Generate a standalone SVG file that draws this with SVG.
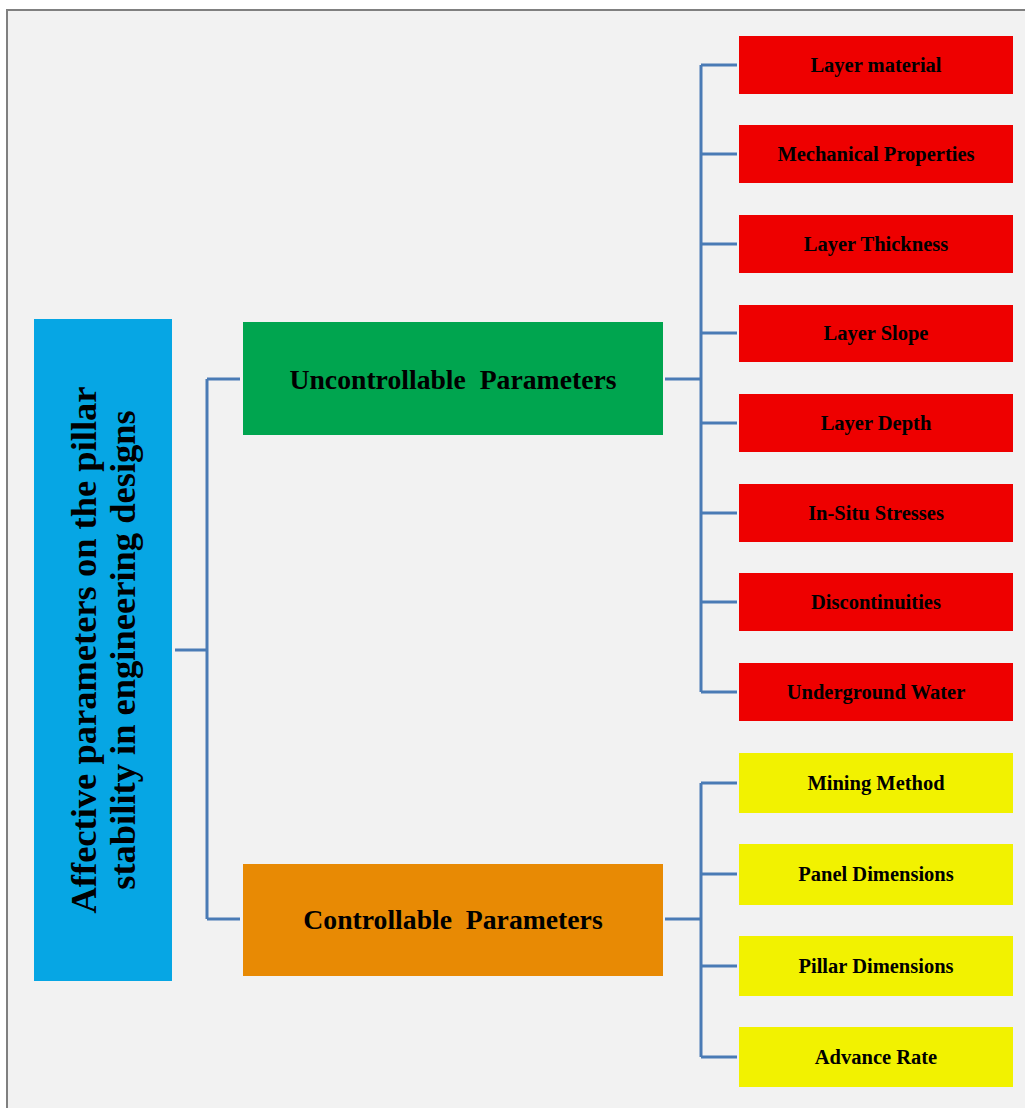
<svg xmlns="http://www.w3.org/2000/svg" width="1025" height="1108" viewBox="0 0 1025 1108">
<style>
.t{font-family:"Liberation Serif","Times New Roman",serif;font-weight:bold;fill:#000;text-anchor:middle;dominant-baseline:central}
.s{font-size:20.5px}
.m{font-size:27.7px;white-space:pre}
.r{font-size:36.5px;dominant-baseline:alphabetic}
.red{fill:#ee0000}
.yel{fill:#f2f200}
.c{fill:none;stroke:#4a7bb5;stroke-width:3}
</style>
<rect x="0" y="0" width="1025" height="1108" fill="#ffffff"/>
<rect x="7" y="10" width="1030" height="1110" fill="#f2f2f2" stroke="#808080" stroke-width="2"/>
<g id="connectors">
<path class="c" d="M175 650H207M207 379V919M207 379H240M207 919H240"/>
<path class="c" d="M665 379H701M701 65V692M701 65H737M701 154H737M701 244H737M701 333H737M701 423H737M701 513H737M701 602H737M701 692H737"/>
<path class="c" d="M665 919H701M701 783V1057M701 783H737M701 874H737M701 966H737M701 1057H737"/>
</g>
<g id="root">
<rect x="34" y="319" width="138" height="662" fill="#06a6e4"/>
<g transform="translate(103 650) rotate(-90)">
<text class="t r" x="0" y="-7">Affective parameters on the pillar</text>
<text class="t r" x="0" y="32">stability in engineering designs</text>
</g>
</g>
<g id="uncontrollable">
<rect x="243" y="322" width="420" height="113" fill="#00a54f"/>
<text class="t m" x="453" y="379" xml:space="preserve">Uncontrollable  Parameters</text>
</g>
<g id="controllable">
<rect x="243" y="864" width="420" height="112" fill="#e88a04"/>
<text class="t m" x="453" y="919" xml:space="preserve">Controllable  Parameters</text>
</g>
<g id="layer-material"><rect class="red" x="739" y="36" width="274" height="58"/><text class="t s" x="876" y="65">Layer material</text></g>
<g id="mechanical-properties"><rect class="red" x="739" y="125" width="274" height="58"/><text class="t s" x="876" y="154">Mechanical Properties</text></g>
<g id="layer-thickness"><rect class="red" x="739" y="215" width="274" height="58"/><text class="t s" x="876" y="244">Layer Thickness</text></g>
<g id="layer-slope"><rect class="red" x="739" y="305" width="274" height="57"/><text class="t s" x="876" y="333">Layer Slope</text></g>
<g id="layer-depth"><rect class="red" x="739" y="394" width="274" height="58"/><text class="t s" x="876" y="423">Layer Depth</text></g>
<g id="in-situ-stresses"><rect class="red" x="739" y="484" width="274" height="58"/><text class="t s" x="876" y="513">In-Situ Stresses</text></g>
<g id="discontinuities"><rect class="red" x="739" y="573" width="274" height="58"/><text class="t s" x="876" y="602">Discontinuities</text></g>
<g id="underground-water"><rect class="red" x="739" y="663" width="274" height="58"/><text class="t s" x="876" y="692">Underground Water</text></g>
<g id="mining-method"><rect class="yel" x="739" y="753" width="274" height="60"/><text class="t s" x="876" y="783">Mining Method</text></g>
<g id="panel-dimensions"><rect class="yel" x="739" y="844" width="274" height="61"/><text class="t s" x="876" y="874">Panel Dimensions</text></g>
<g id="pillar-dimensions"><rect class="yel" x="739" y="936" width="274" height="60"/><text class="t s" x="876" y="966">Pillar Dimensions</text></g>
<g id="advance-rate"><rect class="yel" x="739" y="1027" width="274" height="60"/><text class="t s" x="876" y="1057">Advance Rate</text></g>
</svg>
